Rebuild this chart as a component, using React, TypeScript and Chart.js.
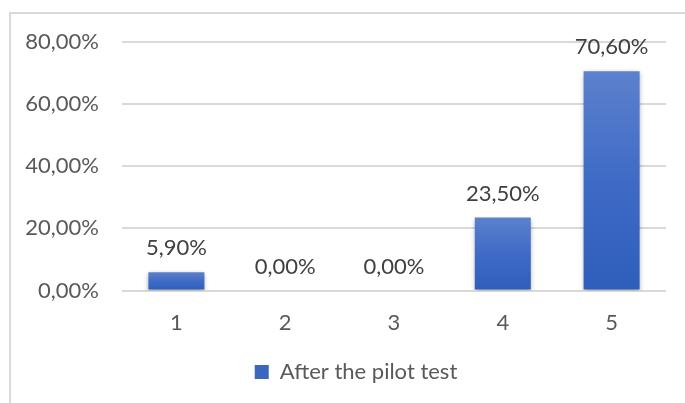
import React, { useEffect, useRef } from "react";
import { Chart, registerables } from "chart.js";

Chart.register(...registerables);

const categories = ["1", "2", "3", "4", "5"];
const seriesName = "After the pilot test";
const values = [5.9, 0, 0, 23.5, 70.6];
const yTicks = [0, 20, 40, 60, 80];

const FONT = "Lato, 'Open Sans', sans-serif";
const TEXT = "#595959";

const fmt = (v: number) => v.toFixed(2).replace(".", ",") + "%";

const dataLabelPlugin = {
  id: "dataLabels",
  afterDatasetsDraw(chart: any) {
    const ctx = chart.ctx;
    const meta = chart.getDatasetMeta(0);
    ctx.save();
    ctx.font = `22px ${FONT}`;
    ctx.fillStyle = "#404040";
    ctx.textAlign = "center";
    ctx.textBaseline = "middle";
    meta.data.forEach((el: any, i: number) => {
      ctx.fillText(fmt(values[i]), el.x, el.y - 24);
    });
    ctx.restore();
  },
};

const shadowPlugin = {
  id: "barShadow",
  beforeDatasetsDraw(chart: any) {
    const ctx = chart.ctx;
    ctx.save();
    ctx.shadowColor = "rgba(0,0,0,0.35)";
    ctx.shadowBlur = 5;
    ctx.shadowOffsetX = 0;
    ctx.shadowOffsetY = 2;
  },
  afterDatasetsDraw(chart: any) {
    chart.ctx.restore();
  },
};

const legendShiftPlugin = {
  id: "legendShift",
  afterLayout(chart: any) {
    if (chart.legend) {
      chart.legend.left += 46;
    }
  },
};

export default function App() {
  const ref = useRef<HTMLCanvasElement | null>(null);

  useEffect(() => {
    if (!ref.current) return;
    const chart = new Chart(ref.current, {
      type: "bar",
      data: {
        labels: categories,
        datasets: [
          {
            label: seriesName,
            data: values,
            backgroundColor: (c: any) => {
              const chartObj = c.chart;
              const ys = chartObj.scales?.y;
              if (!ys || c.type !== "data") return "#4472c4";
              const top = ys.getPixelForValue(c.raw ?? 0);
              const base = ys.getPixelForValue(0);
              if (!isFinite(top) || !isFinite(base) || base - top < 1) return "#3a66c0";
              const g = chartObj.ctx.createLinearGradient(0, top, 0, base);
              g.addColorStop(0, "#5c81cd");
              g.addColorStop(0.5, "#3f6bc6");
              g.addColorStop(1, "#2e5ebb");
              return g;
            },
            borderWidth: 0,
            barPercentage: 0.515,
            categoryPercentage: 1,
          },
        ],
      },
      options: {
        animation: false,
        responsive: false,
        maintainAspectRatio: false,
        layout: { padding: { top: 42, right: 19, bottom: 10, left: 0 } },
        scales: {
          x: {
            grid: { display: false, drawTicks: false },
            border: { display: false },
            ticks: { color: TEXT, font: { family: FONT, size: 22 }, padding: 19 },
            afterFit: (s: any) => {
              s.height = 60.5;
            },
          },
          y: {
            min: 0,
            max: 80,
            afterBuildTicks: (s: any) => {
              s.ticks = yTicks.map((v) => ({ value: v }));
            },
            grid: { color: "#d9d9d9", lineWidth: 2, drawTicks: false },
            border: { display: false },
            ticks: {
              color: TEXT,
              font: { family: FONT, size: 22 },
              padding: 23,
              callback: (v: any) => fmt(Number(v)),
            },
            afterFit: (s: any) => {
              s.width = 122;
            },
          },
        },
        plugins: {
          legend: {
            position: "bottom",
            labels: {
              boxWidth: 14,
              boxHeight: 14,
              color: TEXT,
              font: { family: FONT, size: 22 },
              padding: 10,
              generateLabels: () => [
                {
                  text: seriesName,
                  fillStyle: "#3a66c0",
                  strokeStyle: "#3a66c0",
                  lineWidth: 0,
                  hidden: false,
                  datasetIndex: 0,
                  fontColor: TEXT,
                } as any,
              ],
            },
          },
          tooltip: { enabled: false },
        },
      },
      plugins: [shadowPlugin, dataLabelPlugin, legendShiftPlugin],
    });
    return () => chart.destroy();
  }, []);

  return (
    <div style={{ position: "fixed", left: 0, top: 0, width: 685, height: 403, background: "#fff" }}>
      <div style={{ position: "absolute", left: 9, top: 12, right: 0, bottom: 0, borderLeft: "2px solid #d9d9d9", borderTop: "2px solid #d9d9d9" }} />
      <canvas ref={ref} width={685} height={403} style={{ position: "absolute", left: 0, top: 0 }} />
    </div>
  );
}
